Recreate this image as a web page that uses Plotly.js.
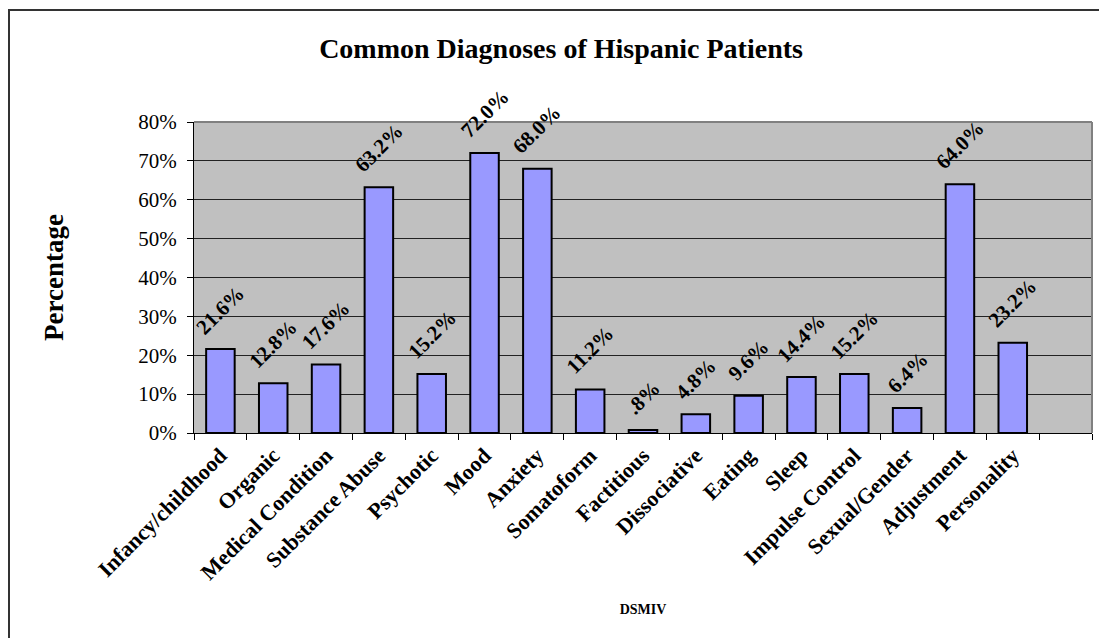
<!DOCTYPE html>
<html>
<head>
<meta charset="utf-8">
<script src="https://cdn.plot.ly/plotly-3.0.1.min.js"></script>
<style>
  html, body { margin: 0; padding: 0; background: #ffffff; }
  #wrap { position: relative; width: 1099px; height: 638px; overflow: hidden; }
  #frame { position: absolute; left: 8px; top: 9px; width: 1200px; height: 800px; border: 2px solid #333333; box-sizing: border-box; pointer-events: none; }
  #chart { position: absolute; left: 0; top: 0; width: 1099px; height: 638px; }
</style>
</head>
<body>
<div id="wrap">
  <div id="chart"></div>
  <div id="frame"></div>
</div>
<script>
// Categories (the last slot is empty in the original chart)
const categories = [
  "Infancy/childhood", "Organic", "Medical Condition", "Substance Abuse",
  "Psychotic", "Mood", "Anxiety", "Somatoform", "Factitious", "Dissociative",
  "Eating", "Sleep", "Impulse Control", "Sexual/Gender", "Adjustment",
  "Personality", "\u00a0"
];
// Percentage values
const values = [21.6, 12.8, 17.6, 63.2, 15.2, 72.0, 68.0, 11.2, 0.8, 4.8,
                9.6, 14.4, 15.2, 6.4, 64.0, 23.2, null];
// Data labels as printed on the chart
const labels = ["21.6%", "12.8%", "17.6%", "63.2%", "15.2%", "72.0%", "68.0%",
                "11.2%", ".8%", "4.8%", "9.6%", "14.4%", "15.2%", "6.4%",
                "64.0%", "23.2%", ""];
const yTickVals = [0, 10, 20, 30, 40, 50, 60, 70, 80];
const yTickText = ["0%", "10%", "20%", "30%", "40%", "50%", "60%", "70%", "80%"];

const serif = "Liberation Serif";

const trace = {
  type: "bar",
  x: categories,
  y: values,
  marker: { color: "#9999FF", line: { color: "#000000", width: 2 } },
  hoverinfo: "x+y"
};

// Data labels placed at each bar's value through the axis scales
const annotations = [];
categories.forEach((c, i) => {
  if (values[i] === null || labels[i] === "") return;
  annotations.push({
    x: c, y: values[i], xref: "x", yref: "y",
    text: labels[i],
    textangle: -45,
    showarrow: false,
    xanchor: "center", yanchor: "bottom",
    yshift: 9,
    borderpad: 0,
    font: { family: serif, size: 21, color: "#000000", weight: "bold" }
  });
});

const layout = {
  width: 1099,
  height: 638,
  margin: { l: 194, r: 7, t: 122, b: 205, pad: 0 },
  paper_bgcolor: "#ffffff",
  plot_bgcolor: "#C0C0C0",
  font: { family: serif, color: "#000000" },
  showlegend: false,
  bargap: 0.46,
  annotations: annotations,
  title: {
    text: "Common Diagnoses of Hispanic Patients",
    font: { family: serif, size: 28, color: "#000000", weight: "bold" },
    x: 0.5105, xref: "container", xanchor: "center",
    y: 1 - 48 / 638, yref: "container", yanchor: "middle"
  },
  xaxis: {
    type: "category",
    range: [-0.5, 16.5],
    tickson: "boundaries",
    ticks: "outside",
    ticklen: 6,
    tickwidth: 1,
    tickcolor: "#000000",
    tickangle: -45,
    tickfont: { family: serif, size: 22, color: "#000000", weight: "bold" },
    showline: true,
    linecolor: "#000000",
    linewidth: 1,
    showgrid: false,
    zeroline: false,
    title: {
      text: "DSMIV",
      font: { family: serif, size: 14, color: "#000000", weight: "bold" },
      standoff: 20
    }
  },
  yaxis: {
    range: [0, 80],
    tickvals: yTickVals,
    ticktext: yTickText,
    ticks: "outside",
    ticklen: 6,
    tickwidth: 1,
    tickcolor: "#000000",
    ticklabelstandoff: 6,
    tickfont: { family: serif, size: 21, color: "#000000" },
    showline: true,
    linecolor: "#000000",
    linewidth: 1,
    showgrid: true,
    gridcolor: "#222222",
    gridwidth: 1,
    zeroline: false,
    title: {
      text: "Percentage",
      font: { family: serif, size: 27, color: "#000000", weight: "bold" },
      standoff: 66
    }
  },
  shapes: [
    { type: "line", xref: "paper", yref: "paper", x0: 0, x1: 1, y0: 1, y1: 1,
      line: { color: "#808080", width: 2 }, layer: "above" },
    { type: "line", xref: "paper", yref: "paper", x0: 1, x1: 1, y0: 0, y1: 1,
      line: { color: "#808080", width: 2 }, layer: "above" }
  ]
};

Plotly.newPlot("chart", [trace], layout, { displayModeBar: false, staticPlot: true });
</script>
</body>
</html>
